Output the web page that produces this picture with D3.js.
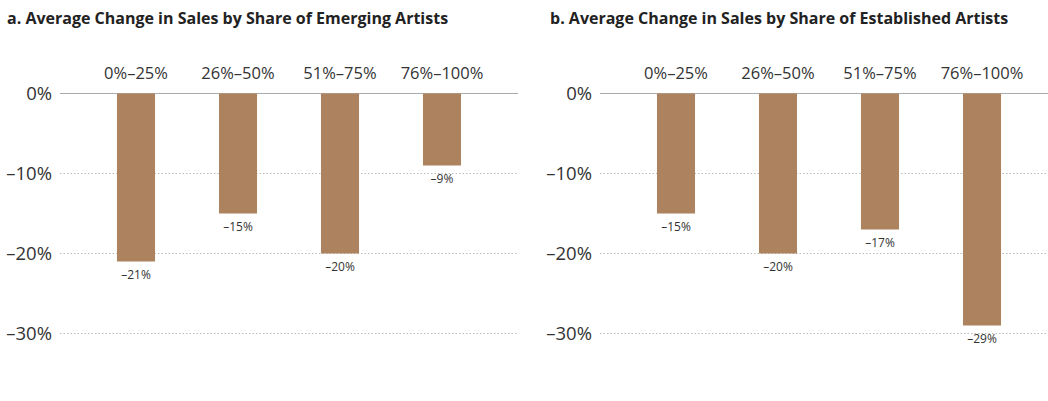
<!DOCTYPE html>
<html lang="en">
<head>
  <meta charset="UTF-8">
  <title>Average Change in Sales</title>
  <script src="https://d3js.org/d3.v7.min.js"></script>
  <style>
    body { margin: 0; background: #fff; }
    text { font-family: "Open Sans", sans-serif; fill: #333; }
  </style>
</head>
<body>
  <script>
    // 1. Data
    const categories = ["0%–25%", "26%–50%", "51%–75%", "76%–100%"];
    const emergingValues = [-21, -15, -20, -9];
    const establishedValues = [-15, -20, -17, -29];
    const yTicks = [0, -10, -20, -30];
    const titles = [
      "a. Average Change in Sales by Share of Emerging Artists",
      "b. Average Change in Sales by Share of Established Artists"
    ];

    // 2. SVG Canvas
    const width = 1048, height = 401;
    const svg = d3.select("body")
                  .append("svg")
                  .attr("width", width)
                  .attr("height", height);

    const fmt = v => (v < 0 ? "–" : "") + Math.abs(v) + "%";

    const yScale = d3.scaleLinear()
                     .domain([0, -30])
                     .range([93.5, 333.5]);

    function panel(offsetX, titleX, title, values) {
      const g = svg.append("g").attr("transform", `translate(${offsetX},0)`);

      g.append("text")
       .attr("x", titleX)
       .attr("y", 24)
       .style("font-size", "16px")
       .style("font-weight", "bold")
       .style("fill", "#222")
       .text(title);

      const xScale = d3.scaleBand()
                       .domain(categories)
                       .range([85, 493])
                       .paddingInner(0.627)
                       .paddingOuter(0.3135);

      // gridlines
      g.selectAll(".grid")
       .data(yTicks)
       .join("line")
       .attr("x1", 60)
       .attr("x2", 518)
       .attr("y1", d => yScale(d))
       .attr("y2", d => yScale(d))
       .attr("stroke", d => d === 0 ? "#aaa" : "#bbb")
       .attr("stroke-width", 1)
       .attr("stroke-dasharray", d => d === 0 ? null : "1.5,2");

      // y tick labels
      g.selectAll(".ytick")
       .data(yTicks)
       .join("text")
       .attr("x", 52)
       .attr("y", d => yScale(d))
       .attr("dy", "0.35em")
       .attr("text-anchor", "end")
       .style("font-size", "18.5px")
       .text(fmt);

      // category labels
      g.selectAll(".cat")
       .data(categories)
       .join("text")
       .attr("x", d => xScale(d) + xScale.bandwidth() / 2)
       .attr("y", 79)
       .attr("text-anchor", "middle")
       .style("font-size", "16.5px")
       .text(d => d);

      // bars
      g.selectAll(".bar")
       .data(values)
       .join("rect")
       .attr("x", (d, i) => xScale(categories[i]))
       .attr("y", yScale(0))
       .attr("width", xScale.bandwidth())
       .attr("height", d => yScale(d) - yScale(0))
       .attr("fill", "#ad825f");

      // value labels
      g.selectAll(".val")
       .data(values)
       .join("text")
       .attr("x", (d, i) => xScale(categories[i]) + xScale.bandwidth() / 2)
       .attr("y", d => yScale(d) + 17)
       .attr("text-anchor", "middle")
       .style("font-size", "12px")
       .text(fmt);
    }

    panel(0, 7, titles[0], emergingValues);
    panel(540, 10, titles[1], establishedValues);
  </script>
</body>
</html>
